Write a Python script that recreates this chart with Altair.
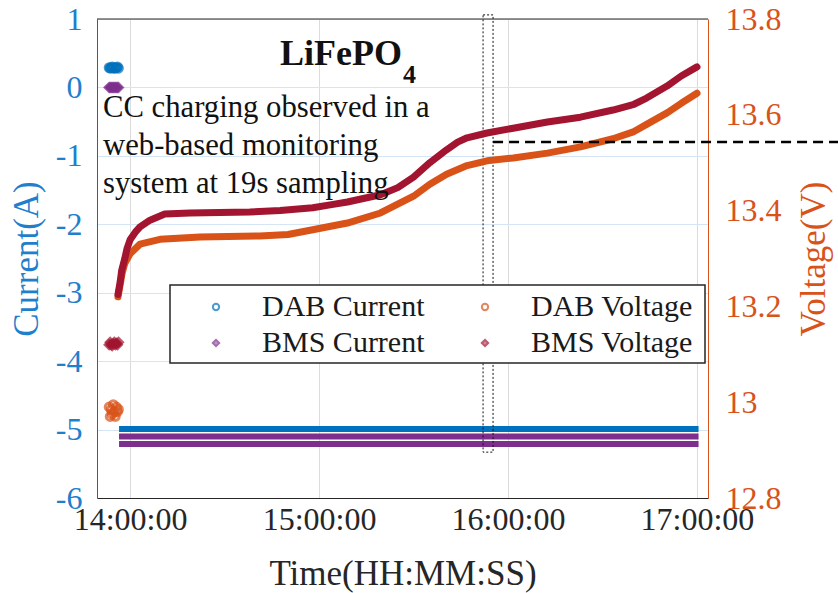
import altair as alt
import pandas as pd

DAY = "2024-01-01T"
FONT = "Liberation Serif"

# ---------------- data ----------------
series_names = ["DAB Current", "BMS Current", "DAB Voltage", "BMS Voltage"]
series_colors = ["#0072BD", "#7E2F8E", "#D95319", "#A2142F"]
series_fills = ["transparent", "#7E2F8E", "transparent", "#A2142F"]
series_shapes = ["circle", "diamond", "circle", "diamond"]

# idle samples before charging starts
idle_time = ["13:53:20", "13:53:40", "13:54:00", "13:54:20", "13:54:40", "13:55:00",
             "13:55:20", "13:55:40", "13:56:00", "13:56:20"]
idle_dab_current = [0.29, 0.28, 0.29, 0.30, 0.28, 0.29, 0.28, 0.29, 0.30, 0.28]
idle_bms_current = [0.0, 0.0, 0.0, 0.0, 0.0, 0.0, 0.0, 0.0, 0.0, 0.0]
idle_dab_voltage = [12.99, 12.97, 12.985, 12.975, 12.995, 12.98, 12.97, 12.99, 12.98, 12.985]
idle_bms_voltage = [13.12, 13.125, 13.12, 13.118, 13.122, 13.125, 13.12, 13.123, 13.12, 13.125]

# constant-current charging: current levels
cc_start = "13:56:30"
cc_end = "17:00:30"
dab_current_levels = [-4.99]
bms_current_levels = [-5.1, -5.21]

# voltages during charging
bms_v_time = ["13:56:10", "13:56:50", "13:57:20", "13:58:20", "13:59:00", "14:00:00",
              "14:01:40", "14:03:10", "14:06:20", "14:11:00", "14:19:00", "14:38:00",
              "14:47:40", "14:58:00", "15:03:30", "15:09:00", "15:19:30", "15:25:00",
              "15:30:00", "15:35:10", "15:40:30", "15:44:00", "15:47:00", "15:53:20",
              "16:01:40", "16:12:30", "16:23:00", "16:33:20", "16:40:00", "16:44:00",
              "16:50:30", "16:55:00", "17:00:00"]
bms_voltage = [13.225, 13.25, 13.275, 13.30, 13.32, 13.339,
               13.355, 13.366, 13.38, 13.393, 13.395, 13.397,
               13.40, 13.406, 13.412, 13.418, 13.433, 13.448,
               13.47, 13.50, 13.527, 13.543, 13.552, 13.562,
               13.572, 13.585, 13.595, 13.61, 13.622, 13.635,
               13.66, 13.681, 13.70]

dab_v_time = ["13:56:10", "13:56:50", "13:57:30", "13:58:20", "14:00:00", "14:03:10",
              "14:09:30", "14:22:10", "14:41:10", "14:50:10", "14:58:00", "15:09:00",
              "15:19:30", "15:30:00", "15:35:10", "15:40:30", "15:47:00", "15:53:20",
              "16:01:40", "16:12:30", "16:23:00", "16:33:20", "16:40:00", "16:44:00",
              "16:50:30", "16:55:00", "17:00:00"]
dab_voltage = [13.22, 13.245, 13.27, 13.29, 13.31, 13.33,
               13.34, 13.345, 13.347, 13.35, 13.36, 13.374,
               13.395, 13.43, 13.455, 13.476, 13.494, 13.504,
               13.51, 13.52, 13.533, 13.55, 13.565, 13.58,
               13.604, 13.624, 13.645]

# annotations
threshold_voltage = [13.543]
threshold_start = ["15:55:15"]
window_start = ["15:52:05"]
window_end = ["15:55:15"]
window_current = [1.06, -5.33]
title_main = "LiFePO"
title_sub = "4"
note_lines = ["CC charging observed in a", "web-based monitoring", "system at 19s sampling"]

current_ticks = [-6, -5, -4, -3, -2, -1, 0, 1]
voltage_ticks = [12.8, 13.0, 13.2, 13.4, 13.6, 13.8]
time_ticks = [14, 15, 16, 17]

# ---------------- tables ----------------
def ts(s):
    return DAY + s

idle_cur = pd.DataFrame({
    "time": [ts(t) for t in idle_time] * 2,
    "value": idle_dab_current + idle_bms_current,
    "series": ["DAB Current"] * len(idle_time) + ["BMS Current"] * len(idle_time),
})
idle_volt = pd.DataFrame({
    "time": [ts(t) for t in idle_time] * 2,
    "value": idle_dab_voltage + idle_bms_voltage,
    "series": ["DAB Voltage"] * len(idle_time) + ["BMS Voltage"] * len(idle_time),
})
n_lv = len(dab_current_levels) + len(bms_current_levels)
cur_levels = pd.DataFrame({
    "start": [ts(cc_start)] * n_lv,
    "end": [ts(cc_end)] * n_lv,
    "value": dab_current_levels + bms_current_levels,
    "series": ["DAB Current"] * len(dab_current_levels) + ["BMS Current"] * len(bms_current_levels),
})
volt = pd.DataFrame({
    "time": [ts(t) for t in dab_v_time] + [ts(t) for t in bms_v_time],
    "value": dab_voltage + bms_voltage,
    "series": ["DAB Voltage"] * len(dab_v_time) + ["BMS Voltage"] * len(bms_v_time),
})
thr = pd.DataFrame({"start": [ts(t) for t in threshold_start], "value": threshold_voltage})
win = pd.DataFrame({"start": [ts(window_start[0])], "end": [ts(window_end[0])],
                    "top": [window_current[0]], "bottom": [window_current[1]]})

# ---------------- scales / axes ----------------
x_scale = alt.Scale(
    domain=[alt.DateTime(year=2024, month=1, date=1, hours=13, minutes=49, seconds=30),
            alt.DateTime(year=2024, month=1, date=1, hours=17, minutes=3, seconds=30)],
    nice=False)
x_axis = alt.Axis(
    values=[alt.DateTime(year=2024, month=1, date=1, hours=h) for h in time_ticks],
    format="%H:%M:%S", title="Time(HH:MM:SS)", grid=True, gridColor="#dcdcdc",
    domainColor="#262626", ticks=False, labelPadding=6, titlePadding=21,
    labelFontSize=32, titleFontSize=35, labelColor="#262626", titleColor="#262626",
    labelFont=FONT, titleFont=FONT, titleFontWeight="normal", labelFlush=False,
)

cur_scale = alt.Scale(domain=[-6, 1], nice=False, zero=False)
volt_scale = alt.Scale(domain=[12.8, 13.8], nice=False, zero=False)

cur_axis = alt.Axis(
    title="Current(A)", values=current_ticks, grid=True, gridColor="#d4e6f5",
    domainColor="#0072BD", labelColor="#1f7fcc", titleColor="#1f7fcc", ticks=False,
    labelPadding=15, titlePadding=11, labelFontSize=32, titleFontSize=35,
    labelFont=FONT, titleFont=FONT, titleFontWeight="normal",
    labelExpr="datum.value < 0 ? '-' + (-datum.value) : '' + datum.value",
)
volt_axis = alt.Axis(
    title="Voltage(V)", orient="right", values=voltage_ticks, grid=False,
    domainColor="#D95319", labelColor="#D95319", titleColor="#D95319", ticks=False,
    labelPadding=17, titlePadding=15, labelFontSize=32, titleFontSize=35,
    labelFont=FONT, titleFont=FONT, titleFontWeight="normal",
    titleAngle=270, titleBaseline="top",
    labelExpr="'' + datum.value",
)

stroke_scale = alt.Scale(domain=series_names, range=series_colors)
fill_scale = alt.Scale(domain=series_names, range=series_fills)
shape_scale = alt.Scale(domain=series_names, range=series_shapes)

legend = alt.Legend(
    title=None, orient="none", legendX=104, legendY=273, columns=2,
    padding=0, symbolOffset=0, labelOffset=31, columnPadding=45, rowPadding=6,
    labelFont=FONT, labelFontSize=30, labelColor="#1a1a1a",
    symbolSize=40, symbolStrokeWidth=2, labelLimit=400,
)

# ---------------- current group ----------------
cur_pts = alt.Chart(idle_cur).mark_point(size=60, strokeWidth=3, filled=False).encode(
    x=alt.X("time:T", scale=x_scale, axis=x_axis),
    y=alt.Y("value:Q", scale=cur_scale, axis=cur_axis),
    stroke=alt.Stroke("series:N", scale=stroke_scale, legend=legend),
    fill=alt.Fill("series:N", scale=fill_scale, legend=legend),
    shape=alt.Shape("series:N", scale=shape_scale, legend=legend),
)
cur_rules = alt.Chart(cur_levels).mark_rule(strokeWidth=6).encode(
    x=alt.X("start:T", scale=x_scale),
    x2="end:T",
    y=alt.Y("value:Q", scale=cur_scale),
    stroke=alt.Stroke("series:N", scale=stroke_scale, legend=None),
)
win_rect = alt.Chart(win).mark_rect(fill="transparent", stroke="#111111", strokeDash=[2, 2],
                                    strokeWidth=1, clip=False).encode(
    x=alt.X("start:T", scale=x_scale), x2="end:T",
    y=alt.Y("top:Q", scale=cur_scale), y2="bottom:Q",
)
current_group = alt.layer(cur_pts, cur_rules, win_rect)

# ---------------- voltage group ----------------
volt_lines = alt.Chart(volt).mark_line(strokeWidth=7, strokeCap="round", strokeJoin="round").encode(
    x=alt.X("time:T", scale=x_scale),
    y=alt.Y("value:Q", scale=volt_scale, axis=volt_axis),
    stroke=alt.Stroke("series:N", scale=stroke_scale, legend=None),
)
volt_pts = alt.Chart(idle_volt).mark_point(size=60, strokeWidth=3, filled=False).encode(
    x=alt.X("time:T", scale=x_scale),
    y=alt.Y("value:Q", scale=volt_scale),
    stroke=alt.Stroke("series:N", scale=stroke_scale, legend=None),
    fill=alt.Fill("series:N", scale=fill_scale, legend=None),
    shape=alt.Shape("series:N", scale=shape_scale, legend=None),
)
thr_rule = alt.Chart(thr).mark_rule(strokeDash=[10, 6], strokeWidth=2.5, color="black").encode(
    x=alt.X("start:T", scale=x_scale), x2=alt.value(741),
    y=alt.Y("value:Q", scale=volt_scale),
)
voltage_group = alt.layer(volt_lines, volt_pts, thr_rule)

# ---------------- frame, legend box, text ----------------
top_border = alt.Chart(pd.DataFrame({"a": [0]})).mark_rule(color="#262626", strokeWidth=1).encode(
    x=alt.value(0), x2=alt.value(611), y=alt.value(0)
)
legend_box = alt.Chart(pd.DataFrame({"a": [0]})).mark_rect(
    fill="white", stroke="#262626", strokeWidth=1.5
).encode(x=alt.value(73), x2=alt.value(608), y=alt.value(266), y2=alt.value(344))
title_txt = alt.Chart(pd.DataFrame({"label": [title_main]})).mark_text(
    font=FONT, fontSize=36, fontWeight="bold", align="left", baseline="alphabetic", color="#111111"
).encode(text="label:N", x=alt.value(183), y=alt.value(46))
sub_txt = alt.Chart(pd.DataFrame({"label": [title_sub]})).mark_text(
    font=FONT, fontSize=26, fontWeight="bold", align="left", baseline="alphabetic", color="#111111"
).encode(text="label:N", x=alt.value(306), y=alt.value(64))
note_txt = alt.Chart(pd.DataFrame({"a": [0]})).mark_text(
    font=FONT, fontSize=30.7, align="left", baseline="alphabetic", color="#111111", lineHeight=38
).encode(text=alt.value(note_lines), x=alt.value(6), y=alt.value(98))

chart = alt.layer(current_group, voltage_group, top_border, legend_box,
                  title_txt, sub_txt, note_txt).resolve_scale(
    y="independent"
).properties(
    width=611, height=479,
    autosize=alt.AutoSizeParams(type="none"),
    padding={"left": 97, "top": 19, "right": 130, "bottom": 95},
).configure_view(stroke=None).configure(background="white")

chart.save("out.html", embed_options={"renderer": "svg", "actions": False})
